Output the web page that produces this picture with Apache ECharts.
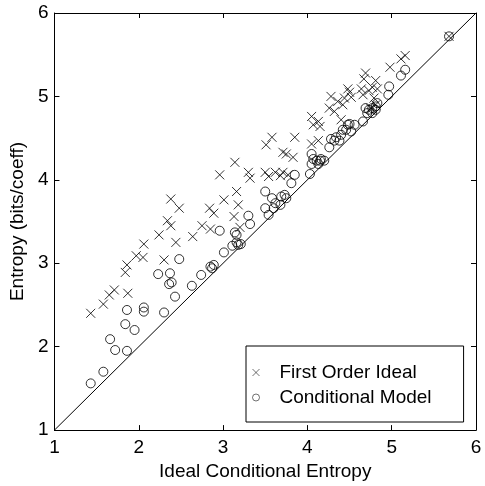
<!DOCTYPE html>
<html>
<head>
<meta charset="utf-8">
<script src="https://cdn.jsdelivr.net/npm/echarts@6/dist/echarts.min.js"></script>
<style>html,body{margin:0;padding:0;background:#fff}#c{width:485px;height:486px}</style>
</head>
<body>
<div id="c"></div>
<script>
var xTicks = [1, 2, 3, 4, 5, 6];
var yTicks = [1, 2, 3, 4, 5, 6];
var xName = 'Ideal Conditional Entropy';
var yName = 'Entropy (bits/coeff)';
var seriesNames = ['First Order Ideal', 'Conditional Model'];

var firstOrderX = [1.43,1.58,1.65,1.71,1.87,1.84,1.86,1.97,2.05,2.06,2.24,2.30,2.34,2.38,2.44,2.38,2.48,2.64,2.75,2.85,2.84,2.89,2.96,3.01,3.14,3.16,3.18,3.13,3.20,3.30,3.32,3.50,3.54,3.62,3.68,3.71,3.77,3.51,3.58,3.71,3.75,3.83,3.85,4.05,4.13,4.05,4.13,4.15,4.07,4.26,4.32,4.28,4.36,4.42,4.40,4.44,4.50,4.52,4.48,4.64,4.66,4.73,4.69,4.67,4.81,4.77,4.83,4.79,4.81,4.75,4.98,5.11,5.16,5.68];
var firstOrderY = [2.40,2.51,2.62,2.68,2.64,2.89,2.98,3.09,3.07,3.23,3.34,3.04,3.51,3.45,3.25,3.77,3.66,3.32,3.45,3.41,3.66,3.60,4.06,3.76,4.21,3.86,3.70,3.56,3.43,4.09,4.02,4.09,4.04,4.09,4.05,4.09,4.06,4.42,4.51,4.33,4.31,4.27,4.51,4.43,4.47,4.76,4.70,4.64,4.66,4.86,4.82,5.00,4.94,4.90,4.72,4.98,5.05,4.99,5.09,5.09,5.02,5.07,5.28,5.21,5.19,5.11,5.09,4.98,4.90,4.86,5.35,5.45,5.49,5.72];

var condX = [1.43,1.58,1.66,1.72,1.86,1.84,1.95,1.86,2.06,2.06,2.30,2.43,2.36,2.39,2.23,2.37,2.63,2.48,2.74,2.85,2.89,2.87,2.96,3.01,3.14,3.16,3.11,3.18,3.21,3.16,3.30,3.32,3.50,3.50,3.54,3.60,3.58,3.69,3.73,3.75,3.68,3.62,3.81,3.85,4.03,4.05,4.13,4.05,4.07,4.11,4.15,4.20,4.16,4.26,4.28,4.34,4.38,4.32,4.40,4.42,4.46,4.48,4.50,4.52,4.56,4.66,4.69,4.71,4.73,4.77,4.77,4.81,4.81,4.83,4.96,4.97,5.11,5.16,5.68];
var condY = [1.56,1.70,2.09,1.96,1.95,2.27,2.20,2.44,2.47,2.42,2.41,2.60,2.75,2.77,2.87,2.88,2.73,3.05,2.86,2.96,2.98,2.94,3.39,3.13,3.37,3.34,3.21,3.22,3.23,3.25,3.57,3.47,3.86,3.66,3.58,3.66,3.78,3.80,3.82,3.78,3.70,3.72,3.96,4.06,4.07,4.19,4.19,4.31,4.25,4.23,4.23,4.23,4.25,4.39,4.49,4.51,4.47,4.47,4.54,4.60,4.60,4.66,4.67,4.58,4.66,4.70,4.86,4.80,4.84,4.86,4.80,4.84,4.88,4.92,5.02,5.12,5.25,5.32,5.72];

var diagonal = [[1, 1], [6, 6]];

function zip(a, b) { return a.map(function (v, i) { return [v, b[i]]; }); }

var FONT = 'Liberation Sans, Arial, Helvetica, sans-serif';
var crossPath = 'path://M0,0L10,10M10,0L0,10';

var chart = echarts.init(document.getElementById('c'), null, {renderer: 'canvas'});
var axisCommon = {
  type: 'value', min: 1, max: 6, interval: 1,
  axisLine: {show: true, onZero: false, lineStyle: {color: '#000', width: 1}},
  axisTick: {show: true, inside: true, length: 5, lineStyle: {color: '#000', width: 1}},
  splitLine: {show: false}
};
chart.setOption({
  animation: false,
  backgroundColor: '#fff',
  grid: {left: 51, right: 9, top: 13, bottom: 48, containLabel: false},
  xAxis: [
    Object.assign({}, axisCommon, {
      position: 'bottom',
      name: xName, nameLocation: 'middle', nameGap: 27,
      nameTextStyle: {color: '#000', fontSize: 19, fontFamily: FONT},
      axisLabel: {color: '#000', fontSize: 19, fontFamily: FONT, margin: 8,
        formatter: function (v) { return xTicks.indexOf(v) >= 0 ? String(v) : ''; }}
    }),
    Object.assign({}, axisCommon, {position: 'top', axisLabel: {show: false}})
  ],
  yAxis: [
    Object.assign({}, axisCommon, {
      position: 'left',
      name: yName, nameLocation: 'middle', nameGap: 25,
      nameTextStyle: {color: '#000', fontSize: 19, fontFamily: FONT},
      axisLabel: {color: '#000', fontSize: 19, fontFamily: FONT, margin: 6,
        formatter: function (v) { return yTicks.indexOf(v) >= 0 ? String(v) : ''; }}
    }),
    Object.assign({}, axisCommon, {position: 'right', axisLabel: {show: false}})
  ],
  legend: {
    show: true,
    orient: 'vertical',
    left: 246, top: 346,
    padding: [17, 32, 15, 4],
    itemGap: 6,
    itemWidth: 7, itemHeight: 7,
    backgroundColor: '#fff',
    borderColor: '#000', borderWidth: 1, borderRadius: 0,
    itemStyle: {color: 'none', borderColor: '#000', borderWidth: 0.7},
    textStyle: {color: '#000', fontSize: 19, fontFamily: FONT, lineHeight: 19, padding: [0, 0, 0, 15]},
    data: [{name: seriesNames[0], icon: crossPath}, {name: seriesNames[1], icon: 'circle'}]
  },
  series: [
    {
      type: 'line', data: diagonal, symbol: 'none', silent: true, z: 1,
      lineStyle: {color: '#000', width: 1}
    },
    {
      name: seriesNames[0], type: 'scatter', data: zip(firstOrderX, firstOrderY),
      symbol: crossPath, symbolSize: 9, z: 3,
      itemStyle: {color: 'none', borderColor: '#000', borderWidth: 1}
    },
    {
      name: seriesNames[1], type: 'scatter', data: zip(condX, condY),
      symbol: 'circle', symbolSize: 9, z: 3,
      itemStyle: {color: 'none', borderColor: '#000', borderWidth: 1}
    }
  ]
});
</script>
</body>
</html>
